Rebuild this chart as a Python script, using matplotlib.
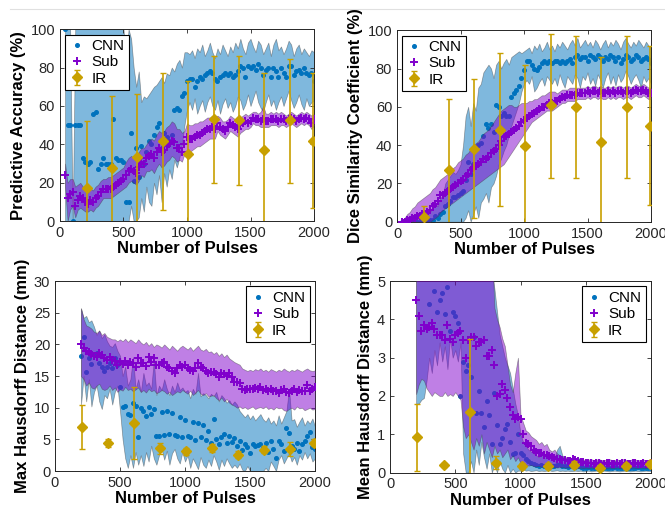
import numpy as np
import matplotlib
matplotlib.use('Agg')
import matplotlib.pyplot as plt
from matplotlib.lines import Line2D

plt.rcParams['font.family'] = ['Liberation Sans', 'DejaVu Sans']

# pulses for the top two panels and the bottom two panels
x_top = np.arange(40, 2001, 20)
x_bot = np.arange(200, 2001, 20)
ir_x = [210, 410, 610, 810, 1010, 1210, 1410, 1610, 1810, 1990]

# ---- Predictive accuracy (%)
cnn_acc = [100, 50, 50, 0, 50, 50, 50, 33, 31, 30,
           31, 56, 57, 27, 30, 33, 30, 30, 30, 53,
           33, 32, 32, 31, 10, 10, 46, 21, 38, 23,
           39, 30, 36, 42, 40, 45, 49, 51, 38, 46,
           44, 42, 45, 58, 59, 58, 65, 67, 73, 74,
           74, 70, 73, 75, 74, 76, 77, 78, 77, 74,
           73, 75, 76, 77, 76, 77, 75, 76, 78, 81,
           80, 75, 81, 80, 81, 79, 82, 80, 76, 79,
           80, 75, 80, 78, 75, 80, 77, 75, 81, 81,
           76, 78, 79, 77, 80, 77, 76, 77, 73]
cnn_acc_hi = [100, 100, 100, 0, 100, 100, 100, 100, 100, 100,
              100, 100, 100, 100, 100, 100, 100, 100, 100, 100,
              100, 100, 100, 100, 85, 100, 95, 80, 70, 78,
              62, 65, 64, 66, 68, 70, 71, 73, 75, 72,
              77, 76, 80, 78, 82, 84, 80, 88, 88, 87,
              89, 85, 90, 88, 92, 86, 89, 93, 88, 85,
              90, 87, 92, 89, 86, 91, 88, 93, 90, 95,
              90, 87, 93, 95, 91, 88, 94, 92, 87, 90,
              93, 86, 92, 95, 89, 91, 87, 90, 94, 92,
              86, 90, 92, 87, 90, 88, 86, 89, 88]
cnn_acc_lo = [0, 0, 0, 0, 0, 0, 0, 0, 0, 0,
              0, 0, 0, 0, 0, 0, 0, 0, 0, 0,
              0, 0, 0, 0, 0, 0, 8, 0, 0, 2,
              12, 5, 18, 10, 8, 20, 14, 24, 10, 25,
              18, 27, 22, 32, 28, 33, 40, 50, 58, 62,
              58, 64, 56, 60, 63, 57, 62, 65, 60, 58,
              63, 56, 61, 64, 59, 62, 57, 60, 65, 63,
              58, 61, 66, 60, 64, 68, 62, 59, 57, 62,
              66, 60, 63, 58, 62, 65, 60, 64, 68, 63,
              59, 62, 66, 61, 58, 64, 60, 62, 63]
sub_acc = [24, 12, 14, 15, 8, 11, 13, 12, 10, 9,
           11, 10, 12, 13, 15, 17, 17, 17, 17, 18,
           19, 20, 21, 22, 24, 26, 27, 26, 25, 28,
           31, 30, 33, 34, 35, 33, 36, 38, 36, 37,
           39, 40, 42, 41, 38, 38, 36, 40, 44, 43,
           43, 44, 45, 45, 46, 47, 48, 48, 49, 48,
           51, 49, 48, 47, 49, 51, 50, 49, 48, 50,
           51, 52, 51, 52, 54, 53, 53, 52, 53, 52,
           52, 53, 53, 53, 52, 53, 53, 52, 53, 54,
           53, 52, 53, 54, 53, 54, 53, 51, 53]
sub_acc_hi = [30, 20, 22, 22, 18, 19, 20, 18, 16, 15,
              17, 16, 18, 19, 21, 22, 22, 23, 23, 24,
              25, 26, 27, 28, 31, 33, 34, 33, 33, 36,
              38, 38, 40, 42, 43, 42, 45, 47, 46, 47,
              49, 50, 52, 51, 48, 48, 46, 47, 51, 50,
              50, 51, 51, 52, 52, 53, 54, 54, 55, 54,
              55, 54, 52, 52, 53, 55, 54, 53, 53, 54,
              55, 56, 55, 56, 57, 57, 56, 57, 60, 56,
              56, 57, 56, 57, 56, 57, 56, 55, 56, 57,
              56, 55, 56, 57, 56, 57, 56, 55, 56]
sub_acc_lo = [18, 0, 6, 8, 2, 6, 7, 6, 5, 5,
              6, 5, 7, 8, 10, 12, 12, 12, 12, 13,
              14, 15, 16, 17, 18, 20, 21, 20, 19, 21,
              24, 23, 26, 26, 27, 25, 28, 30, 28, 29,
              31, 32, 34, 33, 31, 32, 31, 35, 37, 36,
              37, 38, 39, 39, 40, 41, 42, 43, 43, 43,
              47, 45, 44, 43, 45, 47, 46, 45, 44, 46,
              47, 48, 48, 49, 51, 50, 50, 49, 49, 49,
              49, 50, 50, 50, 49, 50, 50, 49, 50, 51,
              50, 49, 50, 51, 50, 51, 50, 48, 50]
ir_acc = [17.4, 27.5, 33.6, 42, 35, 53, 52.5, 37, 52.5, 42]
ir_acc_lo = [-10, -10, -10, 6, -10, 20, 19, -10, 20, 7]
ir_acc_hi = [52, 65, 66, 77, 73, 86, 86, 77, 84.5, 77]

# ---- Dice similarity coefficient (%)
cnn_dsc = [0, 0, 0, 0, 0, 0, 0, 0, 0, 0,
           0, 1, 1, 3, 2, 4, 5, 8, 9, 11,
           13, 13, 14, 15, 16, 22, 31, 25, 30, 30,
           40, 41, 45, 51, 49, 51, 47, 61, 60, 55,
           57, 55, 55, 65, 67, 69, 71, 75, 79, 84,
           84, 82, 80, 79, 81, 83, 84, 83, 84, 83,
           84, 84, 83, 84, 83, 84, 85, 83, 86, 87,
           85, 86, 86, 84, 87, 86, 85, 87, 86, 84,
           86, 85, 87, 86, 84, 86, 83, 85, 87, 86,
           84, 85, 87, 86, 84, 85, 86, 85, 83]
cnn_dsc_hi = [0, 0, 0, 0, 1, 1, 1, 2, 2, 3,
              4, 5, 7, 10, 8, 12, 14, 20, 22, 24,
              26, 25, 27, 30, 40, 55, 60, 50, 62, 58,
              70, 72, 78, 80, 82, 80, 75, 82, 84, 80,
              83, 85, 82, 86, 87, 88, 89, 88, 89, 90,
              91, 88, 92, 90, 93, 89, 91, 94, 90, 92,
              89, 93, 91, 94, 92, 90, 93, 95, 92, 96,
              91, 93, 95, 92, 94, 91, 95, 93, 90, 93,
              95, 91, 94, 92, 95, 93, 90, 94, 96, 93,
              91, 94, 92, 95, 93, 91, 94, 92, 91]
cnn_dsc_lo = [0, 0, 0, 0, 0, 0, 0, 0, 0, 0,
              0, 0, 0, 0, 0, 0, 0, 0, 0, 0,
              0, 0, 0, 0, 0, 2, 6, 0, 4, 8,
              2, 10, 12, 15, 10, 18, 20, 24, 30, 33,
              37, 40, 45, 50, 54, 58, 62, 68, 72, 74,
              72, 76, 68, 70, 73, 75, 71, 76, 74, 72,
              75, 71, 77, 73, 70, 76, 74, 72, 77, 75,
              70, 76, 74, 78, 72, 75, 71, 77, 74, 70,
              75, 78, 72, 76, 71, 77, 73, 75, 79, 76,
              72, 75, 77, 74, 70, 76, 73, 75, 72]
sub_dsc = [0, 0, 1, 1, 2, 2, 3, 3, 4, 4,
           5, 6, 8, 9, 11, 14, 14, 15, 16, 17,
           18, 19, 20, 21, 22, 24, 25, 27, 28, 29,
           30, 31, 33, 33, 34, 36, 37, 38, 40, 42,
           44, 45, 46, 47, 48, 49, 50, 52, 53, 54,
           55, 56, 57, 58, 59, 60, 60, 61, 62, 62,
           63, 63, 64, 65, 65, 66, 66, 66, 66, 67,
           67, 67, 67, 68, 67, 68, 68, 67, 68, 67,
           67, 68, 67, 68, 67, 68, 68, 67, 68, 68,
           67, 68, 69, 68, 68, 69, 68, 67, 67]
sub_dsc_hi = [1, 2, 4, 5, 7, 8, 10, 11, 12, 13,
              14, 15, 17, 18, 20, 22, 23, 24, 25, 27,
              28, 29, 31, 32, 33, 35, 36, 38, 40, 41,
              42, 44, 46, 47, 48, 50, 52, 54, 56, 58,
              59, 60, 61, 61, 60, 60, 61, 62, 62, 62,
              63, 63, 64, 64, 65, 66, 66, 67, 68, 68,
              68, 67, 68, 69, 69, 69, 70, 70, 70, 70,
              70, 70, 70, 71, 70, 71, 71, 70, 71, 70,
              70, 71, 70, 71, 70, 71, 71, 70, 71, 71,
              70, 71, 72, 71, 71, 72, 71, 70, 70]
sub_dsc_lo = [0, 0, 0, 0, 0, 0, 0, 0, 0, 0,
              0, 0, 1, 2, 3, 5, 6, 7, 8, 9,
              10, 11, 12, 13, 14, 15, 16, 17, 18, 19,
              20, 21, 22, 23, 24, 25, 26, 27, 28, 29,
              30, 32, 34, 36, 38, 40, 42, 44, 46, 48,
              50, 52, 53, 54, 55, 56, 57, 58, 58, 58,
              59, 60, 61, 62, 62, 63, 63, 63, 63, 64,
              64, 64, 64, 65, 64, 65, 65, 64, 65, 64,
              64, 65, 64, 65, 64, 65, 65, 64, 65, 65,
              64, 65, 66, 65, 65, 66, 65, 64, 64]
ir_dsc = [2.3, 27, 38, 48, 39.6, 61, 60, 41.7, 60, 50]
ir_dsc_lo = [-10, -10, 2, 8, -10, 23, 22.6, -10, 23, 8.5]
ir_dsc_hi = [8, 64, 74.5, 88, 82, 98, 97, 86, 97, 91.5]

# ---- Max Hausdorff distance (mm)
cnn_max = [18.2, 21.2, 15.7, 17.9, 16.9, 18.4, 18.6, 17.0, 16.5, 15.8,
           16.5, 17.1, 16.2, 17.9, 16.8, 13.2, 10.1, 10.3, 9.0, 8.9,
           10.8, 10.2, 5.3, 10.0, 9.5, 8.7, 10.1, 9.0, 9.8, 5.5,
           5.6, 9.3, 5.7, 9.5, 5.9, 9.2, 5.7, 5.6, 8.5, 5.4,
           8.0, 5.5, 5.3, 7.7, 4.9, 7.6, 5.3, 7.2, 4.9, 6.4,
           4.4, 8.2, 5.0, 4.2, 5.3, 5.8, 4.4, 5.5, 4.6, 5.2,
           4.0, 4.8, 3.3, 4.2, 3.8, 2.9, 4.3, 4.0, 4.1, 4.2,
           3.7, 4.5, 3.0, 4.7, 3.5, 2.0, 4.8, 4.3, 3.2, 6.8,
           6.0, 4.0, 3.5, 4.5, 3.2, 4.3, 4.8, 5.5, 6.2, 3.8,
           3.5]
cnn_max_hi = [25.7, 24.2, 24.5, 23.5, 23.8, 22.8, 21.5, 22.2, 21.0, 21.6,
              20.5, 19.8, 19.6, 20.2, 19.0, 18.2, 15.0, 16.5, 13.5, 14.5,
              18.0, 13.0, 14.5, 12.5, 15.5, 13.5, 14.0, 13.0, 17.5, 12.0,
              13.5, 12.8, 14.5, 13.0, 12.0, 13.5, 12.5, 14.0, 12.8, 13.2,
              12.5, 12.8, 11.5, 13.0, 12.2, 15.5, 11.8, 12.3, 12.0, 11.5,
              12.2, 11.8, 12.5, 11.0, 12.0, 11.5, 10.8, 11.2, 10.5, 11.0,
              10.5, 9.5, 9.0, 8.5, 9.0, 8.2, 8.8, 8.0, 8.5, 9.0,
              8.2, 7.8, 8.5, 7.5, 8.0, 7.2, 8.8, 7.5, 8.5, 9.5,
              13.0, 8.0, 8.2, 7.0, 7.8, 8.5, 7.2, 8.0, 7.5, 8.3,
              7.0]
cnn_max_lo = [10.5, 15.0, 11.0, 14.5, 10.2, 12.5, 13.5, 11.0, 9.8, 12.0,
              11.5, 13.0, 10.5, 12.5, 13.5, 9.5, 5.0, 2.0, 0.5, 2.5,
              0.5, 3.0, 1.0, 2.5, 0.8, 3.0, 1.5, 4.0, 2.0, 1.0,
              2.5, 3.5, 1.8, 3.2, 1.0, 2.8, 3.5, 2.0, 1.2, 3.0,
              1.5, 2.5, 0.5, 2.0, 1.2, 0.3, 2.2, 1.0, 0.5, 1.8,
              0.8, 2.5, 1.5, 0.2, 1.8, 0.8, 2.0, 1.2, 0.5, 1.0,
              0.5, 1.2, 0.2, 0.0, 0.8, 0.0, 0.0, 0.0, 0.0, 0.0,
              0.0, 0.5, 0.0, 1.5, 0.8, 0.0, 1.8, 2.5, 1.2, 2.0,
              2.8, 1.5, 2.2, 1.0, 2.5, 1.8, 3.0, 2.0, 2.8, 1.5,
              2.0]
sub_max = [20.0, 19.5, 19.0, 18.8, 18.5, 18.2, 18.0, 18.6, 18.4, 17.8,
           17.5, 18.0, 17.6, 17.4, 16.8, 17.2, 16.9, 17.4, 16.8, 17.3,
           17.0, 16.5, 17.8, 17.0, 17.1, 16.6, 18.0, 17.2, 17.8, 16.7,
           16.8, 17.0, 17.2, 16.4, 16.2, 15.8, 15.5, 16.3, 16.7, 16.5,
           16.8, 16.3, 16.0, 15.8, 16.2, 17.0, 16.5, 16.2, 15.8, 15.5,
           15.6, 15.7, 15.3, 14.9, 15.5, 15.4, 15.0, 15.5, 14.8, 14.0,
           14.1, 13.9, 12.9, 12.8, 13.0, 12.9, 13.0, 13.1, 12.9, 13.2,
           12.8, 13.0, 12.7, 13.0, 12.6, 12.7, 12.4, 12.8, 13.0, 12.5,
           12.3, 12.7, 12.9, 12.5, 12.8, 12.6, 12.7, 13.6, 12.6, 12.9,
           13.2]
sub_max_hi = [25.7, 24.0, 23.0, 22.8, 22.5, 22.0, 21.8, 22.2, 21.5, 21.8,
              21.2, 21.0, 20.8, 20.8, 20.5, 20.8, 20.5, 20.9, 20.4, 20.8,
              20.5, 20.2, 20.8, 20.3, 20.0, 20.4, 19.8, 20.2, 19.6, 20.0,
              19.8, 19.5, 20.0, 19.6, 19.2, 19.8, 19.4, 19.0, 19.5, 19.8,
              19.5, 19.2, 19.6, 19.0, 19.4, 19.8, 19.2, 19.0, 19.3, 18.8,
              18.9, 18.5, 18.8, 18.2, 18.6, 18.0, 18.4, 17.8, 17.5, 17.2,
              17.0, 16.8, 16.2, 16.0, 15.8, 16.0, 15.8, 16.1, 15.9, 16.2,
              15.8, 16.0, 15.7, 16.1, 15.9, 15.7, 16.0, 15.8, 16.2, 15.9,
              15.7, 16.0, 15.8, 16.1, 15.9, 15.7, 16.0, 16.2, 15.9, 15.8,
              15.9]
sub_max_lo = [15.0, 14.5, 13.5, 14.0, 13.2, 13.0, 13.5, 13.8, 13.0, 12.8,
              13.0, 13.5, 12.8, 13.2, 12.5, 12.9, 12.7, 13.3, 12.8, 13.0,
              12.6, 12.9, 13.2, 12.5, 12.8, 12.4, 13.0, 12.6, 12.8, 12.3,
              12.5, 12.8, 12.6, 12.2, 12.5, 12.0, 12.3, 12.6, 12.4, 12.8,
              12.5, 12.2, 12.7, 12.0, 12.4, 12.8, 12.2, 12.0, 12.3, 11.8,
              11.9, 12.0, 11.5, 11.2, 11.6, 11.0, 11.4, 10.8, 10.5, 10.3,
              10.0, 10.2, 9.9, 10.1, 9.8, 10.0, 10.2, 9.8, 10.0, 10.1,
              9.9, 10.2, 9.8, 10.0, 9.7, 10.1, 9.9, 10.0, 9.6, 9.5,
              9.8, 10.0, 9.7, 10.2, 9.9, 10.0, 9.6, 9.8, 10.0, 9.7,
              9.8]
ir_max = [6.95, 4.4, 7.6, 3.6, 3.1, 3.6, 2.6, 3.3, 3.5, 4.5]
ir_max_lo = [3.5, 3.8, 1.9, 2.7, 2.6, 3.0, 2.0, 2.8, 2.4, 3.9]
ir_max_hi = [10.5, 5.1, 13.2, 4.5, 3.6, 4.2, 3.2, 3.9, 4.6, 5.1]

# ---- Mean Hausdorff distance (mm)
cnn_mean = [5.6, 6.1, 5.4, 5.8, 5.2, 4.4, 5.3, 4.75, 4.2, 4.5,
            4.7, 4.15, 4.84, 3.7, 4.2, 4.1, 3.9, 2.0, 2.9, 2.65,
            2.8, 2.5, 3.55, 1.55, 2.13, 1.55, 1.2, 1.87, 1.5, 0.75,
            2.09, 1.25, 0.74, 0.9, 1.13, 1.26, 0.8, 0.48, 0.52, 1.0,
            0.5, 0.45, 0.35, 0.3, 0.25, 0.22, 0.2, 0.18, 0.2, 0.17,
            0.18, 0.2, 0.17, 0.16, 0.19, 0.22, 0.18, 0.16, 0.15, 0.17,
            0.16, 0.15, 0.18, 0.14, 0.13, 0.12, 0.14, 0.13, 0.12, 0.13,
            0.12, 0.14, 0.13, 0.12, 0.11, 0.13, 0.14, 0.12, 0.11, 0.12,
            0.13, 0.12, 0.11, 0.13, 0.12, 0.14, 0.12, 0.11, 0.13, 0.12,
            0.12]
cnn_mean_hi = [6.5, 6.8, 6.4, 6.6, 6.9, 6.5, 6.7, 6.6, 6.8, 6.5,
               6.6, 6.4, 6.8, 6.5, 6.7, 6.3, 6.5, 6.2, 6.4, 6.0,
               6.0, 5.8, 6.1, 5.7, 5.9, 5.6, 5.8, 5.4, 5.5, 5.3,
               4.8, 4.2, 3.6, 3.3, 3.0, 2.8, 2.6, 2.2, 1.8, 1.5,
               1.0, 0.8, 0.7, 0.6, 0.55, 0.5, 0.45, 0.4, 0.5, 0.42,
               0.45, 0.5, 0.4, 0.38, 0.6, 0.7, 0.45, 0.4, 0.35, 0.38,
               0.36, 0.34, 0.4, 0.32, 0.3, 0.28, 0.3, 0.29, 0.28, 0.3,
               0.28, 0.3, 0.29, 0.27, 0.26, 0.3, 0.31, 0.28, 0.26, 0.28,
               0.29, 0.27, 0.26, 0.29, 0.28, 0.3, 0.27, 0.26, 0.28, 0.27,
               0.28]
cnn_mean_lo = [1.8, 1.8, 1.9, 1.95, 2.4, 3.0, 2.6, 3.2, 2.8, 3.4,
               2.9, 3.3, 2.7, 3.5, 3.0, 3.2, 2.9, 3.4, 0.5, 0.0,
               0.0, 0.3, 0.0, 0.6, 0.2, 0.8, 0.4, 0.1, 0.5, 0.0,
               0.2, 0.0, 0.3, 0.1, 0.0, 0.2, 0.0, 0.1, 0.0, 0.05,
               0.05, 0.08, 0.05, 0.06, 0.04, 0.05, 0.06, 0.04, 0.05, 0.04,
               0.05, 0.06, 0.04, 0.05, 0.06, 0.04, 0.05, 0.04, 0.05, 0.04,
               0.04, 0.05, 0.04, 0.05, 0.03, 0.04, 0.05, 0.03, 0.04, 0.05,
               0.04, 0.03, 0.05, 0.04, 0.03, 0.04, 0.05, 0.04, 0.03, 0.04,
               0.05, 0.04, 0.03, 0.04, 0.05, 0.04, 0.03, 0.04, 0.05, 0.04,
               0.04]
sub_mean = [4.5, 4.1, 3.7, 3.85, 3.75, 3.8, 3.9, 3.75, 3.6, 3.6,
            3.6, 3.45, 3.85, 3.5, 3.4, 3.6, 3.65, 3.7, 3.45, 3.0,
            3.45, 3.55, 3.55, 3.3, 3.4, 3.4, 3.45, 3.05, 3.05, 3.2,
            2.8, 2.0, 2.05, 2.3, 2.15, 1.95, 1.7, 1.5, 1.4, 1.45,
            1.4, 1.0, 0.78, 0.75, 0.7, 0.6, 0.55, 0.5, 0.5, 0.45,
            0.45, 0.42, 0.4, 0.38, 0.36, 0.35, 0.33, 0.32, 0.3, 0.3,
            0.35, 0.32, 0.3, 0.28, 0.27, 0.25, 0.24, 0.25, 0.23, 0.24,
            0.25, 0.23, 0.22, 0.24, 0.25, 0.23, 0.22, 0.24, 0.23, 0.25,
            0.24, 0.22, 0.23, 0.25, 0.24, 0.22, 0.23, 0.24, 0.22, 0.23,
            0.24]
sub_mean_hi = [6.8, 7.0, 6.6, 6.9, 6.7, 7.1, 6.8, 6.9, 7.0, 6.7,
               6.8, 7.0, 6.6, 6.9, 7.2, 6.8, 7.0, 6.7, 6.9, 6.6,
               6.8, 7.0, 6.7, 6.9, 6.6, 6.8, 7.0, 6.7, 6.5, 6.0,
               4.3, 4.0, 3.8, 3.5, 3.3, 2.8, 2.3, 2.1, 2.6, 3.0,
               1.5, 1.3, 1.1, 1.05, 0.95, 0.9, 0.85, 0.75, 0.8, 0.7,
               0.75, 0.6, 0.55, 0.6, 0.5, 0.45, 0.42, 0.4, 0.4, 0.38,
               0.4, 0.38, 0.36, 0.35, 0.34, 0.33, 0.34, 0.35, 0.33, 0.34,
               0.35, 0.33, 0.32, 0.34, 0.35, 0.33, 0.32, 0.34, 0.33, 0.35,
               0.34, 0.32, 0.33, 0.35, 0.34, 0.32, 0.33, 0.34, 0.32, 0.33,
               0.34]
sub_mean_lo = [2.05, 2.3, 2.45, 2.4, 2.2, 2.1, 2.0, 2.1, 2.05, 2.0,
               2.0, 2.1, 2.0, 2.05, 2.0, 2.1, 2.0, 1.9, 1.2, 0.9,
               1.0, 0.8, 0.6, 0.9, 0.7, 1.0, 0.5, 0.8, 0.6, 0.4,
               0.7, 0.5, 0.6, 0.4, 0.5, 0.6, 0.35, 0.45, 0.3, 0.4,
               0.25, 0.2, 0.22, 0.18, 0.2, 0.17, 0.16, 0.18, 0.15, 0.16,
               0.15, 0.16, 0.14, 0.15, 0.13, 0.14, 0.15, 0.13, 0.14, 0.13,
               0.13, 0.14, 0.12, 0.13, 0.12, 0.13, 0.12, 0.13, 0.12, 0.13,
               0.12, 0.13, 0.12, 0.12, 0.13, 0.12, 0.12, 0.13, 0.12, 0.12,
               0.13, 0.12, 0.12, 0.13, 0.12, 0.12, 0.13, 0.12, 0.12, 0.13,
               0.12]
ir_mean = [0.93, 0.19, 1.59, 0.26, 0.17, 0.17, 0.2, 0.13, 0.17, 0.23]
ir_mean_lo = [0.03, 0.15, -0.3, 0.1, 0.1, 0.1, 0.12, 0.08, 0.1, 0.17]
ir_mean_hi = [1.8, 0.25, 3.5, 0.42, 0.25, 0.25, 0.3, 0.2, 0.25, 0.3]

CNN_COLOR = '#0072BD'
SUB_COLOR = '#8000CC'
IR_COLOR = '#C8A000'


def draw_panel(ax, x, cnn, cnn_lo, cnn_hi, sub, sub_lo, sub_hi,
               ir, ir_lo, ir_hi, ylabel, ymax, ystep, legend_loc):
    ax.fill_between(x, cnn_lo, cnn_hi, facecolor=CNN_COLOR, alpha=0.5,
                    edgecolor='0.25', linewidth=0.5, zorder=1)
    ax.plot(x, cnn, 'o', color=CNN_COLOR, markersize=2.6, label='CNN', zorder=2)
    ax.fill_between(x, sub_lo, sub_hi, facecolor=SUB_COLOR, alpha=0.5,
                    edgecolor='0.25', linewidth=0.5, zorder=3)
    ax.plot(x, sub, '+', color=SUB_COLOR, markersize=5.5, markeredgewidth=1.4,
            label='Sub', zorder=4)
    ir = np.array(ir)
    yerr = [ir - np.array(ir_lo), np.array(ir_hi) - ir]
    ax.errorbar(ir_x, ir, yerr=yerr, fmt='D', color=IR_COLOR, markersize=5.5,
                elinewidth=1.2, capsize=2.5, capthick=1.0, label='IR', zorder=5)
    ax.set_xlim(0, 2000)
    ax.set_ylim(0, ymax)
    ax.set_xticks([0, 500, 1000, 1500, 2000])
    ax.set_yticks(np.arange(0, ymax + ystep / 2, ystep))
    ax.tick_params(direction='in', top=True, right=True, length=3, width=0.6,
                   labelsize=10.5, colors='0.15')
    for s in ax.spines.values():
        s.set_color('0.15')
        s.set_linewidth(0.7)
    ax.set_xlabel('Number of Pulses', fontsize=12, fontweight='bold', labelpad=1)
    ax.set_ylabel(ylabel, fontsize=12, fontweight='bold', labelpad=3)
    leg = ax.legend(loc=legend_loc, fontsize=11, handlelength=0.9,
                    handletextpad=0.5, borderpad=0.3, labelspacing=0.15,
                    borderaxespad=0.35, fancybox=False, framealpha=1)
    leg.get_frame().set_edgecolor('black')
    leg.get_frame().set_linewidth(0.8)


fig = plt.figure(figsize=(6.65, 5.12), dpi=100)
ax1 = fig.add_axes([0.0902, 0.568, 0.382, 0.375])
ax2 = fig.add_axes([0.597, 0.567, 0.382, 0.374])
ax3 = fig.add_axes([0.0827, 0.080, 0.391, 0.371])
ax4 = fig.add_axes([0.5865, 0.077, 0.3925, 0.374])

draw_panel(ax1, x_top, cnn_acc, cnn_acc_lo, cnn_acc_hi, sub_acc, sub_acc_lo, sub_acc_hi,
           ir_acc, ir_acc_lo, ir_acc_hi, 'Predictive Accuracy (%)', 100, 20, 'upper left')
draw_panel(ax2, x_top, cnn_dsc, cnn_dsc_lo, cnn_dsc_hi, sub_dsc, sub_dsc_lo, sub_dsc_hi,
           ir_dsc, ir_dsc_lo, ir_dsc_hi, 'Dice Similarity Coefficient (%)', 100, 20, 'upper left')
draw_panel(ax3, x_bot, cnn_max, cnn_max_lo, cnn_max_hi, sub_max, sub_max_lo, sub_max_hi,
           ir_max, ir_max_lo, ir_max_hi, 'Max Hausdorff Distance (mm)', 30, 5, 'upper right')
draw_panel(ax4, x_bot, cnn_mean, cnn_mean_lo, cnn_mean_hi, sub_mean, sub_mean_lo, sub_mean_hi,
           ir_mean, ir_mean_lo, ir_mean_hi, 'Mean Hausdorff Distance (mm)', 5, 1, 'upper right')

# thin page rule along the top
fig.add_artist(Line2D([0.015, 1.0], [1 - 9 / 512, 1 - 9 / 512], color='0.88', linewidth=0.8))

fig.savefig('out.png', dpi=100)
